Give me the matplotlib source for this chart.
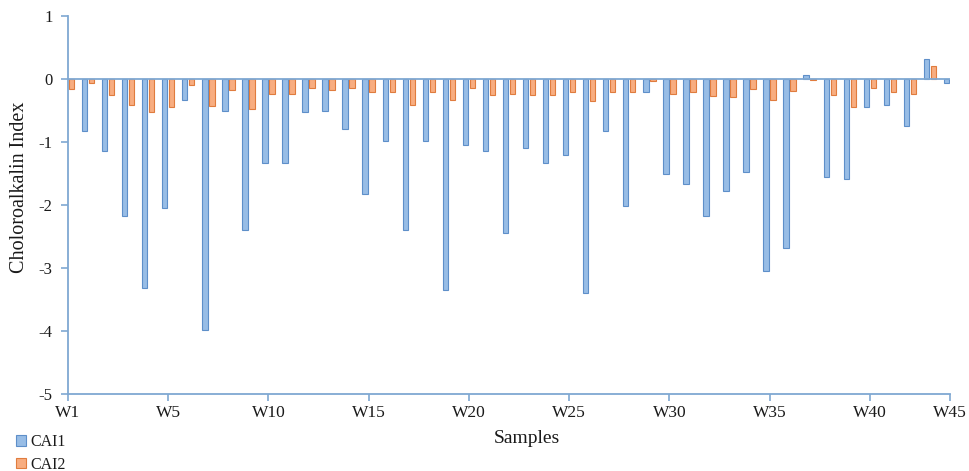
import matplotlib
matplotlib.use("Agg")
import matplotlib.pyplot as plt
from matplotlib.patches import Patch
import numpy as np

# ---- data ----
samples = [f"W{i}" for i in range(1, 46)]
cai1 = [0.0, -0.82, -1.15, -2.17, -3.32, -2.04, -0.34, -3.98, -0.50, -2.40,
        -1.34, -1.33, -0.52, -0.51, -0.79, -1.82, -0.98, -2.39, -0.99, -3.35,
        -1.05, -1.15, -2.44, -1.10, -1.34, -1.21, -3.40, -0.83, -2.02, -0.20,
        -1.51, -1.67, -2.18, -1.77, -1.47, -3.04, -2.68, 0.06, -1.56, -1.58,
        -0.44, -0.42, -0.75, 0.32, -0.07]
cai2 = [-0.16, -0.07, -0.26, -0.41, -0.52, -0.45, -0.10, -0.43, -0.17, -0.48,
        -0.24, -0.24, -0.15, -0.17, -0.15, -0.21, -0.21, -0.41, -0.21, -0.33,
        -0.15, -0.26, -0.24, -0.26, -0.26, -0.21, -0.35, -0.21, -0.21, -0.03,
        -0.24, -0.21, -0.27, -0.29, -0.16, -0.33, -0.19, -0.01, -0.25, -0.45,
        -0.15, -0.20, -0.24, 0.20, -0.02]
series_names = ["CAI1", "CAI2"]
xtick_labels = ["W1", "W5", "W10", "W15", "W20", "W25", "W30", "W35", "W40", "W45"]
ytick_values = [-5, -4, -3, -2, -1, 0, 1]
ytick_labels = ["-5", "-4", "-3", "-2", "-1", "0", "1"]

# ---- style ----
plt.rcParams['font.family'] = ['Liberation Serif', 'DejaVu Serif']
axis_col = '#7FA8D2'
blue_fill, blue_edge = '#98BDE6', '#5E8FC9'
orange_fill, orange_edge = '#F8AD80', '#E07C3E'
text_col = '#1a1a1a'

fig = plt.figure(figsize=(9.69, 4.71), dpi=100)
ax = fig.add_axes([68/969, 77/471, 882/969, 378/471])

x = np.arange(1, len(samples) + 1)
w = 0.27
off = 0.175
ax.bar(x - off, cai1, width=w, color=blue_fill, edgecolor=blue_edge, linewidth=0.8, zorder=3)
ax.bar(x + off, cai2, width=w, color=orange_fill, edgecolor=orange_edge, linewidth=0.8, zorder=3)

ax.set_xlim(1, len(samples))
ax.set_ylim(-5, 1)
ax.axhline(0, color=axis_col, lw=1.3, zorder=4)

xt = [1] + [5 * k + 1 for k in range(1, 9)] + [len(samples)]
ax.set_xticks(xt)
ax.set_xticklabels(xtick_labels, fontsize=12.5, color=text_col)
ax.set_yticks(ytick_values)
ax.set_yticklabels(ytick_labels, fontsize=12, color=text_col)

for s in ['top', 'right']:
    ax.spines[s].set_visible(False)
for s in ['left', 'bottom']:
    ax.spines[s].set_color(axis_col)
    ax.spines[s].set_linewidth(1.3)
ax.tick_params(axis='both', direction='out', length=5, width=1.2, color=axis_col)
ax.tick_params(axis='x', pad=3)
ax.tick_params(axis='y', pad=6)

ax.set_xlabel("Samples", fontsize=14, color=text_col)
ax.xaxis.set_label_coords(0.52, -0.095)
ax.set_ylabel("Choloroalkalin Index", fontsize=14.5, color=text_col)
ax.yaxis.set_label_coords(-0.044, 0.548)

handles = [Patch(facecolor=blue_fill, edgecolor=blue_edge, linewidth=0.8),
           Patch(facecolor=orange_fill, edgecolor=orange_edge, linewidth=0.8)]
fig.legend(handles, series_names, loc='upper left', bbox_to_anchor=(5/969, 1 - 423/471),
           frameon=False, fontsize=11.5, handlelength=0.6, handleheight=0.6,
           handletextpad=0.3, labelspacing=0.42, borderpad=0.2, labelcolor=text_col)

fig.savefig("out.png", dpi=100)
